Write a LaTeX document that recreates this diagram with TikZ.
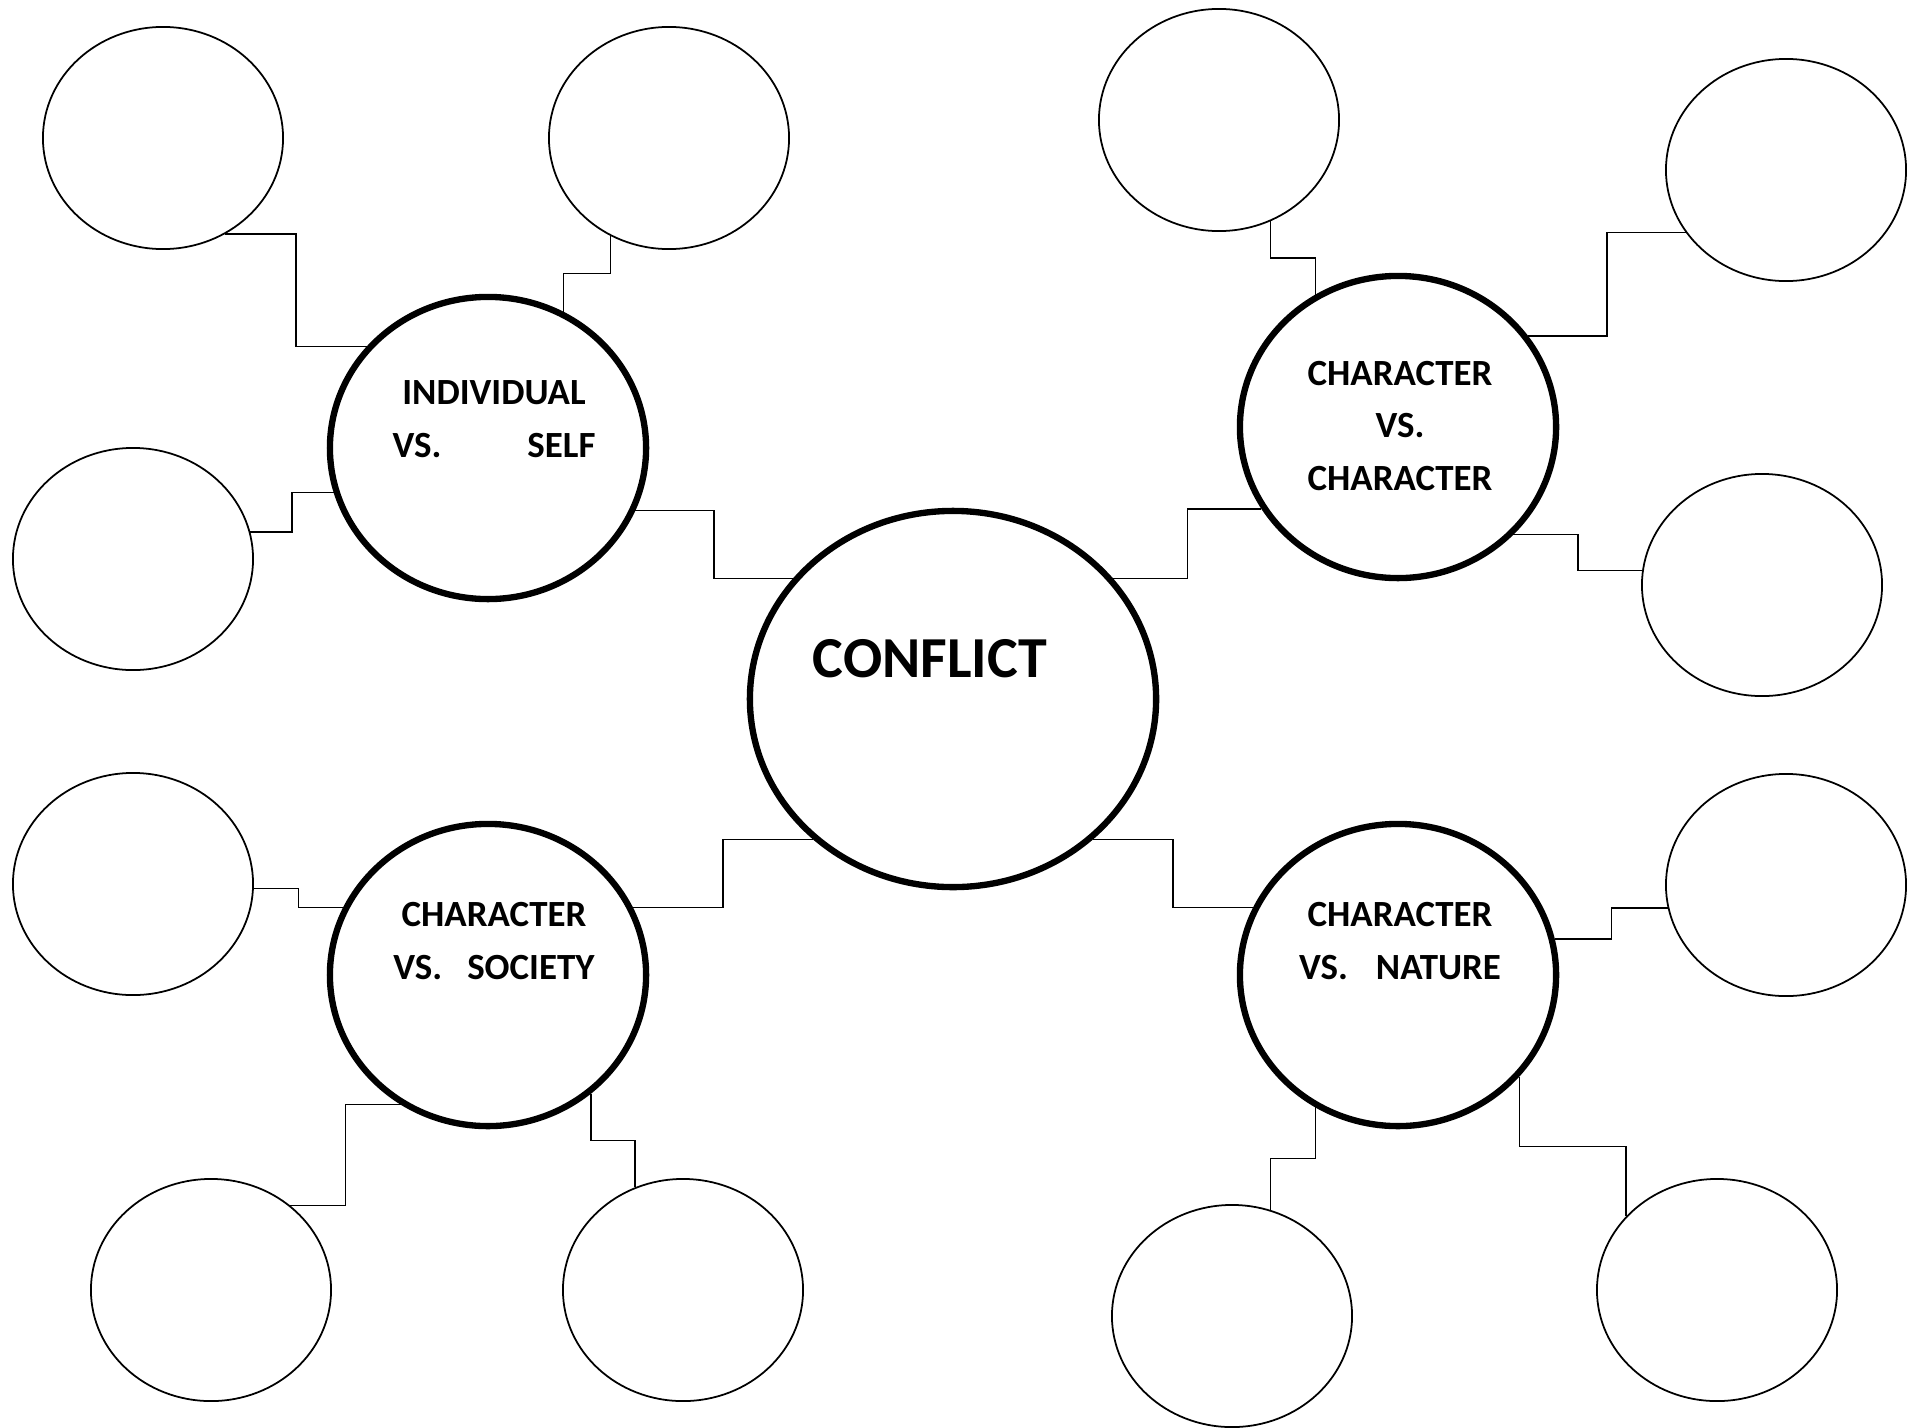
\documentclass[tikz,border=0pt]{standalone}
\usepackage{fontspec}
\setmainfont{Carlito}
\usetikzlibrary{shapes.geometric,calc}

\begin{document}
\begin{tikzpicture}[x=0.01cm, y=-0.01cm,
    big node/.style={ellipse,draw,line width=1.8pt,minimum width=4.06cm,minimum height=3.76cm,inner sep=0pt},
    main node/.style={ellipse,draw,line width=1.8pt,minimum width=3.16cm,minimum height=3.02cm,inner sep=0pt},
    small node/.style={ellipse,draw,line width=0.5pt,minimum width=2.4cm,minimum height=2.22cm,inner sep=0pt},
    title/.style={font=\fontsize{16.5}{20}\selectfont\bfseries},
    vs text/.style={align=center,font=\fontsize{10.5}{14.9}\selectfont\bfseries},
    link/.style={line width=0.4pt},
    hvh/.style={to path={-| ($(\tikztostart)!.5!(\tikztotarget)$) |- (\tikztotarget)}},
    vhv/.style={to path={|- ($(\tikztostart)!.5!(\tikztotarget)$) -| (\tikztotarget)}}]

  \useasboundingbox (0,0) rectangle (1919,1427);

  % middle and the four kinds
  \node[big node] (conflict) at (953,699) {};
  \node[main node] (self) at (488,448) {};
  \node[main node] (char) at (1398,427) {};
  \node[main node] (society) at (488,975) {};
  \node[main node] (nature) at (1398,975) {};

  \node[title] (conflict text) at (930,659) {CONFLICT};
  \node[vs text] (self text) at (494,419) {INDIVIDUAL\\VS.\hspace{8.6mm}SELF};
  \node[vs text] (char text) at (1400,426) {CHARACTER\\VS.\\CHARACTER};
  \node[vs text] (society text) at (494,941) {CHARACTER\\VS.\hspace{2.5mm}SOCIETY};
  \node[vs text] (nature text) at (1400,941) {CHARACTER\\VS.\hspace{2.8mm}NATURE};

  % empty bubbles
  \node[small node] (s1) at (163,138) {};
  \node[small node] (s2) at (669,138) {};
  \node[small node] (s3) at (133,559) {};
  \node[small node] (s4) at (1219,120) {};
  \node[small node] (s5) at (1786,170) {};
  \node[small node] (s6) at (1762,585) {};
  \node[small node] (s7) at (133,884) {};
  \node[small node] (s8) at (211,1290) {};
  \node[small node] (s9) at (683,1290) {};
  \node[small node] (s10) at (1786,885) {};
  \node[small node] (s11) at (1232,1316) {};
  \node[small node] (s12) at (1717,1290) {};

  % links
  \draw[link] (self.-23) to[hvh] (conflict.143);
  \draw[link] (conflict.37) to[hvh] (char.211);
  \draw[link] (conflict.225) to[hvh] (society.25);
  \draw[link] (conflict.-45) to[hvh] (nature.155);

  \draw[link] (s1.-57) to[hvh] (self.140);
  \draw[link] (s2.-121) to[vhv] (self.61);
  \draw[link] (s3.13) to[hvh] (self.196);

  \draw[link] (s4.-63) to[vhv] (char.122);
  \draw[link] (s5.212) to[hvh] (char.35);
  \draw[link] (char.-43) to[hvh] (s6.173);

  \draw[link] (s7.-2) to[hvh] (society.155);
  \draw[link] (society.236) to[hvh] (s8.47);
  \draw[link] (society.-49) to[vhv] (s9.115);

  \draw[link] (nature.13) to[hvh] (s10.191);
  \draw[link] (nature.238) to[vhv] (s11.70);
  \draw[link] (nature.-40) to[vhv] (s12.141);

\end{tikzpicture}
\end{document}
